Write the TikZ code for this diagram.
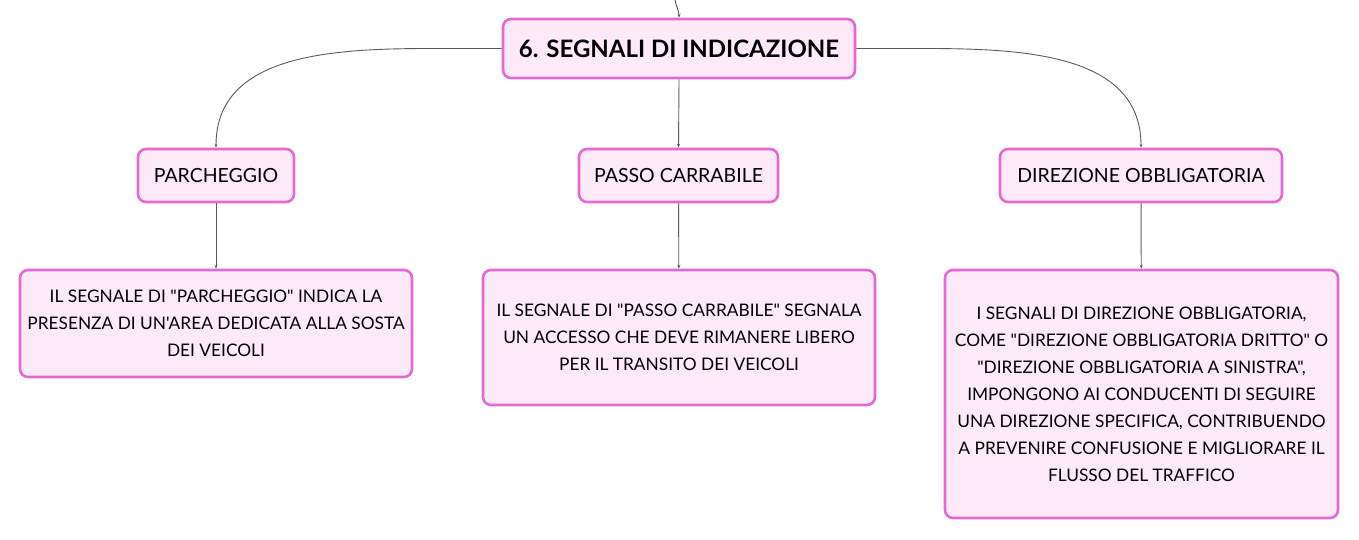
\documentclass[tikz,border=0pt]{standalone}
\usepackage{fontspec}
\setmainfont{Lato}[Ligatures=TeXOff]
\usetikzlibrary{arrows.meta}
\definecolor{boxline}{HTML}{E868D2}
\definecolor{boxfill}{HTML}{FCEAF8}
\definecolor{wire}{HTML}{5A5A5A}
\begin{document}
\begin{tikzpicture}[x=1pt,y=-1pt]

        \useasboundingbox (0,0) rectangle (1359,540);

        \begin{scope}[every node/.style={draw=boxline, fill=boxfill, line width=2.6pt,
            rounded corners=8pt, align=center, inner sep=0pt, font=\fontsize{17.3}{27}\selectfont}]
          \node[minimum width=352pt, minimum height=59pt, font=\fontsize{24}{27}\selectfont\bfseries]
                (main)  at (679,48.5)  {6. SEGNALI DI INDICAZIONE};
          \begin{scope}[every node/.append style={minimum height=53pt, font=\fontsize{19.5}{24}\selectfont}]
            \node[minimum width=156pt] (park)  at (216,175.5)  {PARCHEGGIO};
            \node[minimum width=199pt] (pass)  at (678.5,175.5) {PASSO CARRABILE};
            \node[minimum width=282pt] (dir)   at (1141,175.5) {DIREZIONE OBBLIGATORIA};
          \end{scope}
          \node[minimum width=392pt, minimum height=107pt] (parkd) at (216,323.5)
                {IL SEGNALE DI "PARCHEGGIO" INDICA LA\\PRESENZA DI UN'AREA DEDICATA ALLA SOSTA\\DEI VEICOLI};
          \node[minimum width=392pt, minimum height=135pt] (passd) at (679,337.5)
                {IL SEGNALE DI "PASSO CARRABILE" SEGNALA\\UN ACCESSO CHE DEVE RIMANERE LIBERO\\PER IL TRANSITO DEI VEICOLI};
          \node[minimum width=393pt, minimum height=248pt] (dird)  at (1141.5,394)
                {I SEGNALI DI DIREZIONE OBBLIGATORIA,\\COME "DIREZIONE OBBLIGATORIA DRITTO" O\\"DIREZIONE OBBLIGATORIA A SINISTRA",\\IMPONGONO AI CONDUCENTI DI SEGUIRE\\UNA DIREZIONE SPECIFICA, CONTRIBUENDO\\A PREVENIRE CONFUSIONE E MIGLIORARE IL\\FLUSSO DEL TRAFFICO};
        \end{scope}

        \coordinate (up) at (675,0);

        \begin{scope}[every path/.style={draw=wire, line width=0.9pt,
            -{Stealth[length=4pt,width=3pt]}}]
          \path (up) to[out=-80,in=90] (main.north);
          \path (main.west) -- ++(-40,0) to[out=180,in=90] (park.north);
          \path (main.east) -- ++(40,0) to[out=0,in=90] (dir.north);
          \path (main.south) -- (pass.north);
          \path (park) -- (parkd);
          \path (pass) -- (passd);
          \path (dir) -- (dird);
        \end{scope}

      \end{tikzpicture}
\end{document}
